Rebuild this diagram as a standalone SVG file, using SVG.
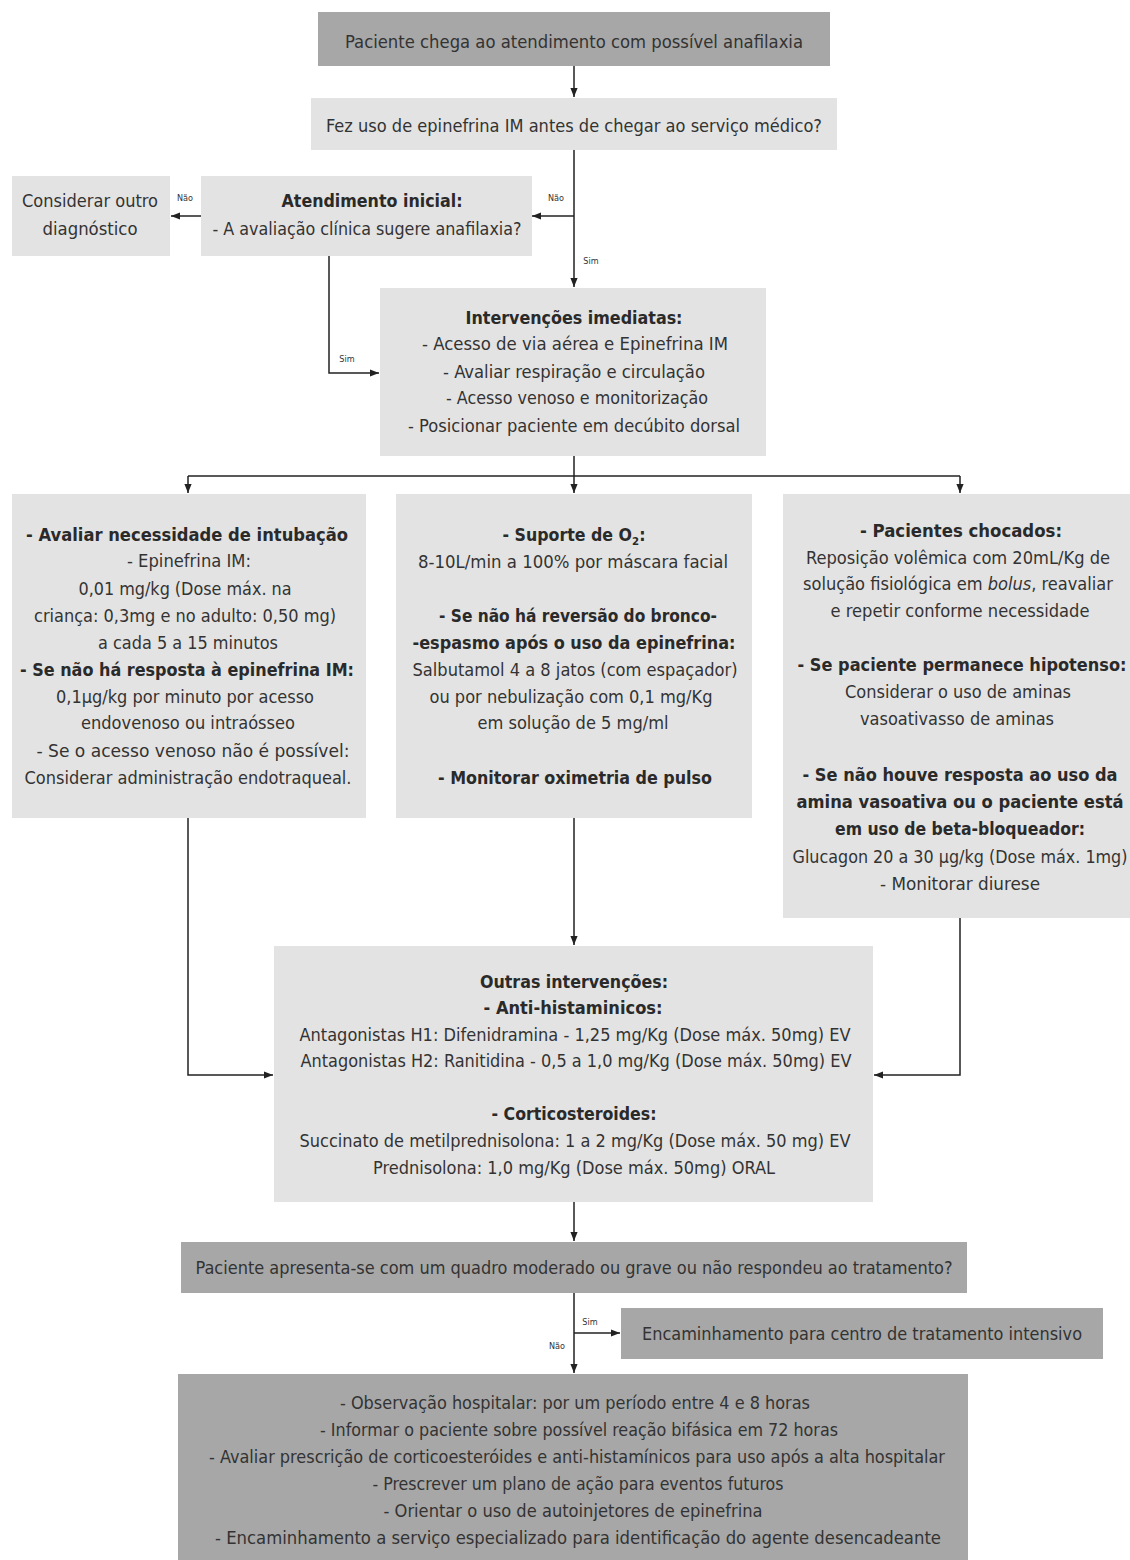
<svg xmlns="http://www.w3.org/2000/svg" width="1130" height="1560" viewBox="0 0 1130 1560">
<defs>
<style>
.dark{fill:#a7a7a7}
.light{fill:#e3e3e3}
text{font-family:"Liberation Sans Narrow","DejaVu Sans Condensed","Liberation Sans",sans-serif;font-size:17px;fill:#333;text-anchor:middle}
.b{font-weight:bold;fill:#2a2a2a}
.lbl{font-size:9px;fill:#333}
.ln{stroke:#222;stroke-width:1.5;fill:none}
</style>
<marker id="ah" viewBox="0 0 10 10" refX="10" refY="5" markerWidth="9" markerHeight="9" markerUnits="userSpaceOnUse" orient="auto">
<path d="M0,1 L10,5 L0,9 z" fill="#222"/>
</marker>
</defs>
<rect width="1130" height="1560" fill="#ffffff"/>

<g id="connectors">
<path class="ln" d="M574,66 V97" marker-end="url(#ah)"/>
<path class="ln" d="M574,150 V287" marker-end="url(#ah)"/>
<path class="ln" d="M574,216 H532" marker-end="url(#ah)"/>
<path class="ln" d="M201,216 H171" marker-end="url(#ah)"/>
<path class="ln" d="M329,256 V373 H379" marker-end="url(#ah)"/>
<path class="ln" d="M574,456 V476"/>
<path class="ln" d="M188,476 H960"/>
<path class="ln" d="M188,476 V493" marker-end="url(#ah)"/>
<path class="ln" d="M574,476 V493" marker-end="url(#ah)"/>
<path class="ln" d="M960,476 V493" marker-end="url(#ah)"/>
<path class="ln" d="M188,818 V1075 H273" marker-end="url(#ah)"/>
<path class="ln" d="M574,818 V945" marker-end="url(#ah)"/>
<path class="ln" d="M960,918 V1075 H874" marker-end="url(#ah)"/>
<path class="ln" d="M574,1202 V1241" marker-end="url(#ah)"/>
<path class="ln" d="M574,1293 V1373" marker-end="url(#ah)"/>
<path class="ln" d="M574,1333 H620" marker-end="url(#ah)"/>
<text class="lbl" x="556" y="201">Não</text>
<text class="lbl" x="591" y="264">Sim</text>
<text class="lbl" x="185" y="201">Não</text>
<text class="lbl" x="347" y="362">Sim</text>
<text class="lbl" x="590" y="1325">Sim</text>
<text class="lbl" x="557" y="1349">Não</text>
</g>

<g id="n1">
<rect class="dark" x="318" y="12" width="512" height="54"/>
<text x="574" y="48" textLength="458" lengthAdjust="spacingAndGlyphs">Paciente chega ao atendimento com possível anafilaxia</text>
</g>

<g id="n2">
<rect class="light" x="311" y="98" width="526" height="52"/>
<text x="574" y="132" textLength="496" lengthAdjust="spacingAndGlyphs">Fez uso de epinefrina IM antes de chegar ao serviço médico?</text>
</g>

<g id="n3">
<rect class="light" x="201" y="176" width="331" height="80"/>
<text class="b" x="372" y="207" textLength="181" lengthAdjust="spacingAndGlyphs">Atendimento inicial:</text>
<text x="367" y="235" textLength="309" lengthAdjust="spacingAndGlyphs">- A avaliação clínica sugere anafilaxia?</text>
</g>

<g id="n4">
<rect class="light" x="12" y="176" width="158" height="80"/>
<text x="90" y="207" textLength="136" lengthAdjust="spacingAndGlyphs">Considerar outro</text>
<text x="90" y="235" textLength="95" lengthAdjust="spacingAndGlyphs">diagnóstico</text>
</g>

<g id="n5">
<rect class="light" x="380" y="288" width="386" height="168"/>
<text class="b" x="574" y="324" textLength="217" lengthAdjust="spacingAndGlyphs">Intervenções imediatas:</text>
<text x="575" y="350" textLength="306" lengthAdjust="spacingAndGlyphs">- Acesso de via aérea e Epinefrina IM</text>
<text x="574" y="378" textLength="262" lengthAdjust="spacingAndGlyphs">- Avaliar respiração e circulação</text>
<text x="577" y="404" textLength="262" lengthAdjust="spacingAndGlyphs">- Acesso venoso e monitorização</text>
<text x="574" y="432" textLength="332" lengthAdjust="spacingAndGlyphs">- Posicionar paciente em decúbito dorsal</text>
</g>

<g id="n6">
<rect class="light" x="12" y="494" width="354" height="324"/>
<text class="b" x="187" y="541" textLength="322" lengthAdjust="spacingAndGlyphs">- Avaliar necessidade de intubação</text>
<text x="189" y="567" textLength="124" lengthAdjust="spacingAndGlyphs">- Epinefrina IM:</text>
<text x="185" y="595" textLength="213" lengthAdjust="spacingAndGlyphs">0,01 mg/kg (Dose máx. na</text>
<text x="185" y="622" textLength="302" lengthAdjust="spacingAndGlyphs">criança: 0,3mg e no  adulto: 0,50 mg)</text>
<text x="188" y="649" textLength="180" lengthAdjust="spacingAndGlyphs">a cada 5 a 15 minutos</text>
<text class="b" x="187" y="676" textLength="334" lengthAdjust="spacingAndGlyphs">- Se não há resposta à epinefrina IM:</text>
<text x="185" y="703" textLength="258" lengthAdjust="spacingAndGlyphs">0,1µg/kg por minuto por acesso</text>
<text x="188" y="729" textLength="214" lengthAdjust="spacingAndGlyphs">endovenoso ou intraósseo</text>
<text x="193" y="757" textLength="313" lengthAdjust="spacingAndGlyphs">- Se o acesso venoso não é possível:</text>
<text x="188" y="784" textLength="327" lengthAdjust="spacingAndGlyphs">Considerar administração endotraqueal.</text>
</g>

<g id="n7">
<rect class="light" x="396" y="494" width="356" height="324"/>
<text class="b" x="574" y="541" textLength="143" lengthAdjust="spacingAndGlyphs">- Suporte de O<tspan font-size="11" dy="4">2</tspan><tspan dy="-4">:</tspan></text>
<text x="573" y="568" textLength="310" lengthAdjust="spacingAndGlyphs">8-10L/min a 100% por máscara facial</text>
<text class="b" x="578" y="622" textLength="278" lengthAdjust="spacingAndGlyphs">- Se não há reversão do bronco-</text>
<text class="b" x="574" y="649" textLength="323" lengthAdjust="spacingAndGlyphs">-espasmo após o uso da epinefrina:</text>
<text x="575" y="676" textLength="325" lengthAdjust="spacingAndGlyphs">Salbutamol 4 a 8 jatos (com espaçador)</text>
<text x="571" y="703" textLength="283" lengthAdjust="spacingAndGlyphs">ou por nebulização com 0,1 mg/Kg</text>
<text x="573" y="729" textLength="191" lengthAdjust="spacingAndGlyphs">em solução de 5 mg/ml</text>
<text class="b" x="575" y="784" textLength="274" lengthAdjust="spacingAndGlyphs">- Monitorar oximetria de pulso</text>
</g>

<g id="n8">
<rect class="light" x="783" y="494" width="347" height="424"/>
<text class="b" x="961" y="537" textLength="202" lengthAdjust="spacingAndGlyphs">- Pacientes chocados:</text>
<text x="958" y="564" textLength="304" lengthAdjust="spacingAndGlyphs">Reposição volêmica com 20mL/Kg de</text>
<text x="958" y="590" textLength="310" lengthAdjust="spacingAndGlyphs">solução fisiológica em <tspan font-style="italic">bolus</tspan>, reavaliar</text>
<text x="960" y="617" textLength="259" lengthAdjust="spacingAndGlyphs">e repetir conforme necessidade</text>
<text class="b" x="962" y="671" textLength="329" lengthAdjust="spacingAndGlyphs">- Se paciente permanece hipotenso:</text>
<text x="958" y="698" textLength="226" lengthAdjust="spacingAndGlyphs">Considerar o uso de aminas</text>
<text x="957" y="725" textLength="194" lengthAdjust="spacingAndGlyphs">vasoativasso de aminas</text>
<text class="b" x="960" y="781" textLength="315" lengthAdjust="spacingAndGlyphs">- Se não houve resposta ao uso da</text>
<text class="b" x="960" y="808" textLength="327" lengthAdjust="spacingAndGlyphs">amina vasoativa ou o paciente está</text>
<text class="b" x="960" y="835" textLength="250" lengthAdjust="spacingAndGlyphs">em uso de beta-bloqueador:</text>
<text x="960" y="863" textLength="335" lengthAdjust="spacingAndGlyphs">Glucagon 20 a 30 µg/kg (Dose máx. 1mg)</text>
<text x="960" y="890" textLength="160" lengthAdjust="spacingAndGlyphs">- Monitorar diurese</text>
</g>

<g id="n9">
<rect class="light" x="274" y="946" width="599" height="256"/>
<text class="b" x="574" y="988" textLength="188" lengthAdjust="spacingAndGlyphs">Outras intervenções:</text>
<text class="b" x="573" y="1014" textLength="179" lengthAdjust="spacingAndGlyphs">-  Anti-histaminicos:</text>
<text x="575" y="1041" textLength="551" lengthAdjust="spacingAndGlyphs">Antagonistas H1: Difenidramina - 1,25 mg/Kg (Dose máx. 50mg) EV</text>
<text x="576" y="1067" textLength="551" lengthAdjust="spacingAndGlyphs">Antagonistas H2: Ranitidina - 0,5 a 1,0 mg/Kg (Dose máx. 50mg) EV</text>
<text class="b" x="574" y="1120" textLength="165" lengthAdjust="spacingAndGlyphs">- Corticosteroides:</text>
<text x="575" y="1147" textLength="551" lengthAdjust="spacingAndGlyphs">Succinato de metilprednisolona: 1 a 2 mg/Kg (Dose máx. 50 mg) EV</text>
<text x="574" y="1174" textLength="402" lengthAdjust="spacingAndGlyphs">Prednisolona: 1,0 mg/Kg (Dose máx. 50mg) ORAL</text>
</g>

<g id="n10">
<rect class="dark" x="181" y="1242" width="786" height="51"/>
<text x="574" y="1274" textLength="757" lengthAdjust="spacingAndGlyphs">Paciente apresenta-se com um quadro moderado ou grave ou não respondeu ao tratamento?</text>
</g>

<g id="n11">
<rect class="dark" x="621" y="1308" width="482" height="51"/>
<text x="862" y="1340" textLength="440" lengthAdjust="spacingAndGlyphs">Encaminhamento para centro de tratamento intensivo</text>
</g>

<g id="n12">
<rect class="dark" x="178" y="1374" width="790" height="186"/>
<text x="575" y="1409" textLength="470" lengthAdjust="spacingAndGlyphs">- Observação hospitalar: por um período entre 4 e 8 horas</text>
<text x="579" y="1436" textLength="518" lengthAdjust="spacingAndGlyphs">- Informar o paciente sobre possível reação bifásica em 72 horas</text>
<text x="577" y="1463" textLength="736" lengthAdjust="spacingAndGlyphs">- Avaliar prescrição de corticoesteróides e anti-histamínicos para uso após a alta hospitalar</text>
<text x="578" y="1490" textLength="411" lengthAdjust="spacingAndGlyphs">- Prescrever um plano de ação para eventos futuros</text>
<text x="573" y="1517" textLength="379" lengthAdjust="spacingAndGlyphs">- Orientar o uso de autoinjetores de epinefrina</text>
<text x="578" y="1544" textLength="726" lengthAdjust="spacingAndGlyphs">- Encaminhamento a serviço especializado para identificação do agente desencadeante</text>
</g>
</svg>
